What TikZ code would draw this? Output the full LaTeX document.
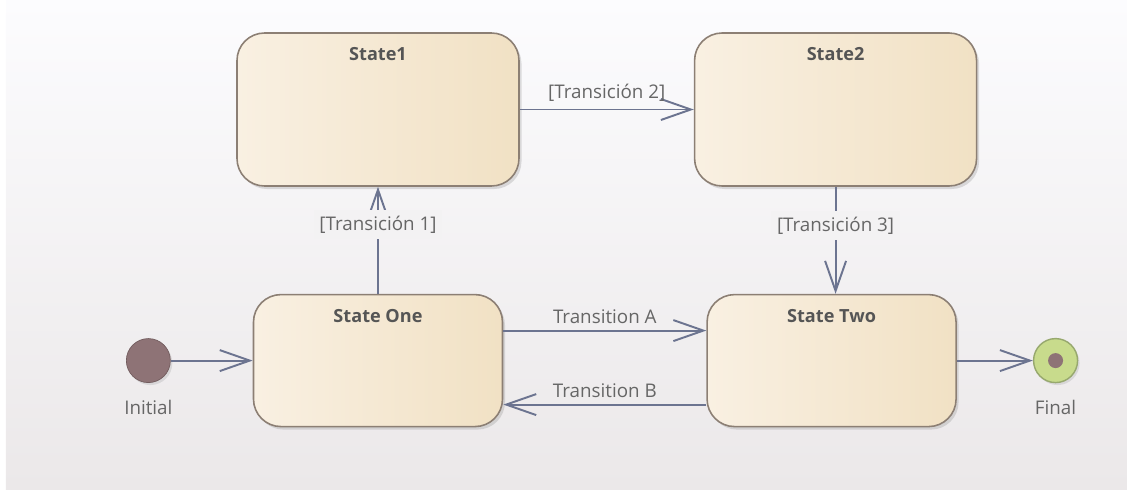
\documentclass[tikz,border=0pt]{standalone}
\usepackage{fontspec}
\setmainfont{Open Sans}
\usetikzlibrary{positioning,arrows.meta,shadows}

\definecolor{stleft}{HTML}{F9F0E2}
\definecolor{stright}{HTML}{F1E1C4}
\definecolor{stedge}{HTML}{8C7F74}
\definecolor{arrowc}{HTML}{6C7490}
\definecolor{textc}{HTML}{555555}
\definecolor{labc}{HTML}{666666}
\definecolor{initc}{HTML}{8E7376}
\definecolor{finalc}{HTML}{C8DB8C}
\definecolor{finaledge}{HTML}{97A86E}
\definecolor{bgtop}{HTML}{FCFCFE}
\definecolor{bgbot}{HTML}{EBE8E9}
\definecolor{labbg}{HTML}{F3F2F3}

\begin{document}
\begin{tikzpicture}[
  state/.style={rounded corners=0.55cm, draw=stedge, line width=0.9pt,
    left color=stleft, right color=stright,
    drop shadow={opacity=0.25, shadow xshift=0.05cm, shadow yshift=-0.06cm}},
  big/.style={state, minimum width=5.64cm, minimum height=3.06cm},
  small/.style={state, minimum width=4.98cm, minimum height=2.64cm},
  statetitle/.style={anchor=north, yshift=-0.18cm, text=textc,
    font=\fontsize{10.3}{12}\selectfont\bfseries},
  trans/.style={draw=arrowc, line width=1.1pt,
    -{Straight Barb[length=0.6cm, width=0.42cm, line width=1.1pt]}},
  translabel/.style={text=labc, font=\fontsize{10.7}{12}\selectfont},
  pseudo/.style={circle, minimum size=0.88cm, inner sep=0pt,
    drop shadow={opacity=0.2, shadow xshift=0.04cm, shadow yshift=-0.05cm}}
]
 % frame and background
 \useasboundingbox (-7.56,2.19) rectangle (14.98,-7.59);
 \shade[top color=bgtop, bottom color=bgbot] (-7.44,2.19) rectangle (14.98,-7.59);

 % states
 \node[big, label={[statetitle]north:State1}] (s1) at (0,0) {};
 \node[big, right=3.48cm of s1, label={[statetitle]north:State2}] (s2) {};
 \node[small, below=2.14cm of s1, label={[statetitle]north:State One}] (sone) {};
 \node[small, right=4.06cm of sone, label={[statetitle]north:State Two}] (stwo) {};

 % pseudo states
 \node[pseudo, fill=initc, draw=initc!80!black, left=1.64cm of sone] (init) {};
 \node[translabel, below=0.22cm of init] (initlab) {Initial};
 \node[pseudo, fill=finalc, draw=finaledge, line width=0.8pt, right=1.52cm of stwo] (final) {};
 \node[circle, fill=initc, minimum size=0.3cm, inner sep=0pt] (fdot) at (final) {};
 \node[translabel, below=0.22cm of final] (finallab) {Final};

 % transitions
 \draw[trans] (init) -- (sone);
 \draw[trans] (sone.north) -- node[translabel, pos=0.645, fill=labbg] {[Transición 1]} (s1.south);
 \draw[trans] (s1) -- node[translabel, above=0.02cm] {[Transición 2]} (s2);
 \draw[trans] (s2.south) -- node[translabel, pos=0.36, fill=labbg] {[Transición 3]} (s2.south |- stwo.north);
 \draw[trans] ([yshift=0.6cm]sone.east) -- node[translabel, above=0.01cm] {Transition A} ([yshift=0.6cm]sone.east -| stwo.west);
 \draw[trans] ([yshift=-0.88cm]stwo.west) -- node[translabel, above=0.01cm] {Transition B} ([yshift=-0.88cm]stwo.west -| sone.east);
 \draw[trans] (stwo) -- (final);
\end{tikzpicture}
\end{document}
